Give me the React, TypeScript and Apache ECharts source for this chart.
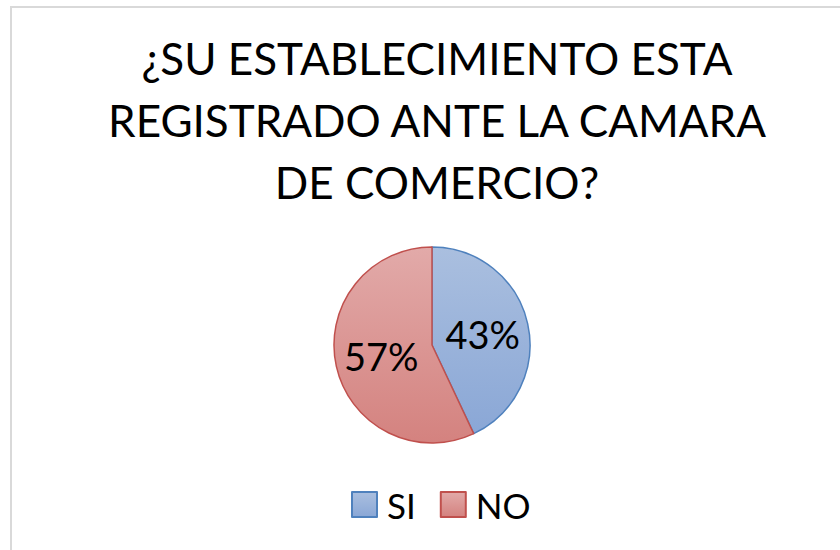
import React, { useEffect, useRef } from "react";
import * as echarts from "echarts";

const titleLines = ["¿SU ESTABLECIMIENTO ESTA", "REGISTRADO ANTE LA CAMARA", "DE COMERCIO?"];
const categories = ["SI", "NO"];
const values = [43, 57];
const FONT = "Lato";

export default function App() {
  const ref = useRef<HTMLDivElement>(null);
  useEffect(() => {
    if (!ref.current) return;
    const chart = echarts.init(ref.current, null, { renderer: "svg" });
    const grad = (a: string, b: string) =>
      new echarts.graphic.LinearGradient(0, 0, 0, 1, [
        { offset: 0, color: a },
        { offset: 1, color: b },
      ]);
    const fills = [grad("#aabfdf", "#8aa7d6"), grad("#e2aaa9", "#d4827f")];
    const borders = ["#4f81bd", "#c0504d"];
    chart.setOption({
      animation: false,
      backgroundColor: "#ffffff",
      graphic: [
        {
          type: "rect",
          shape: { x: 11, y: 7, width: 900, height: 600 },
          style: { fill: "none", stroke: "#d9d9d9", lineWidth: 2 },
          silent: true,
        },
      ],
      title: {
        text: titleLines.join("\n"),
        left: 432,
        top: 22,
        textAlign: "center",
        textStyle: {
          fontFamily: FONT,
          fontSize: 44,
          fontWeight: "normal",
          color: "#000000",
          lineHeight: 62,
        },
      },
      legend: {
        data: categories,
        top: 482,
        left: 346,
        itemWidth: 25,
        itemHeight: 25,
        itemGap: 24,
        icon: "rect",
        textStyle: { fontFamily: FONT, fontSize: 35, color: "#000000", padding: [0, 0, 0, 5] },
      },
      series: [
        {
          type: "pie",
          center: [432, 345],
          radius: 98,
          startAngle: 90,
          clockwise: true,
          label: {
            show: true,
            position: "inside",
            formatter: "{d}%",
            fontFamily: FONT,
            fontSize: 38,
            color: "#000000",
          },
          labelLine: { show: false },
          emphasis: { disabled: true },
          data: categories.map((c, i) => ({
            name: c,
            value: values[i],
            itemStyle: { color: fills[i], borderColor: borders[i], borderWidth: 1.5 },
          })),
        },
      ],
    });
    return () => chart.dispose();
  }, []);
  return (
    <div
      ref={ref}
      style={{ position: "fixed", left: 0, top: 0, width: 840, height: 550 }}
    />
  );
}
